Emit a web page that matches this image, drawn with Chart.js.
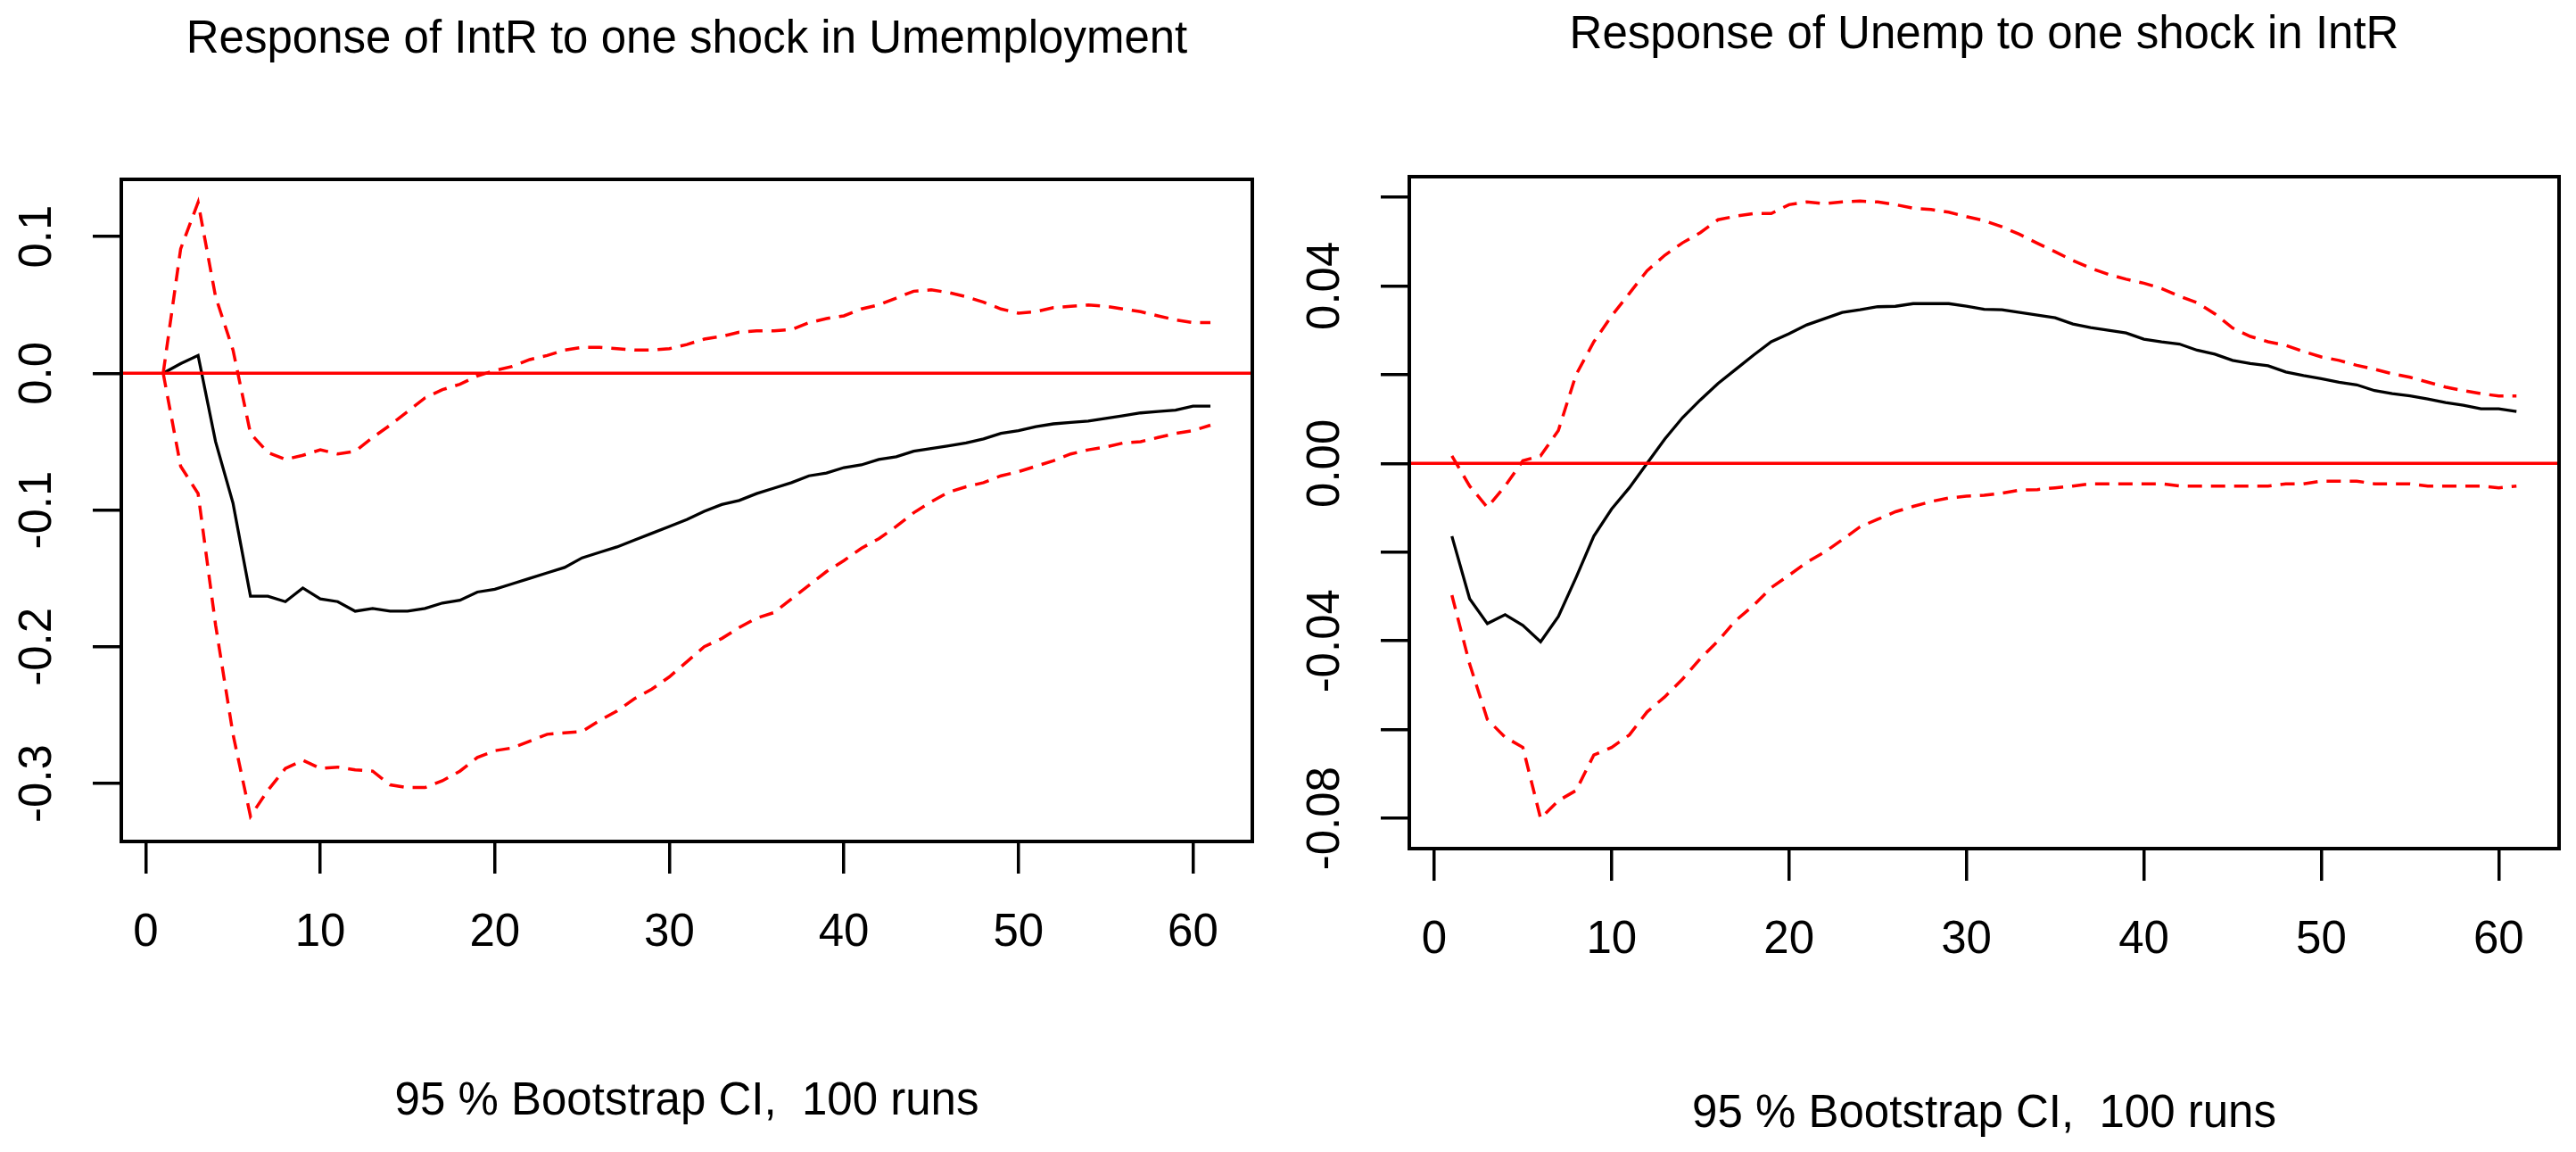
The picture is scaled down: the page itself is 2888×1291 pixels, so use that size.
<!DOCTYPE html>
<html>
<head>
<meta charset="utf-8">
<script src="https://cdn.jsdelivr.net/npm/chart.js@4.4.1/dist/chart.umd.min.js"></script>
<style>
  html, body { margin: 0; padding: 0; background: #fff; }
  #wrap { position: relative; width: 2888px; height: 1291px; }
  canvas { position: absolute; top: 0; }
  #left { left: 0; }
  #right { left: 1444px; }
</style>
</head>
<body>
<div id="wrap">
  <canvas id="left" width="1444" height="1291"></canvas>
  <canvas id="right" width="1444" height="1291"></canvas>
</div>
<script>
// horizon 1..61
const steps = Array.from({ length: 61 }, (_, i) => i + 1);
const xLabels = ["0", "10", "20", "30", "40", "50", "60"];

// Response of IntR to one shock in Unemployment
const irfIntR = [
  0.000, 0.007, 0.013, -0.050, -0.095, -0.163, -0.163, -0.167, -0.157, -0.165,
  -0.167, -0.174, -0.172, -0.174, -0.174, -0.172, -0.168, -0.166, -0.160, -0.158,
  -0.154, -0.150, -0.146, -0.142, -0.135, -0.131, -0.127, -0.122, -0.117, -0.112,
  -0.107, -0.101, -0.096, -0.093, -0.088, -0.084, -0.080, -0.075, -0.073, -0.069,
  -0.067, -0.063, -0.061, -0.057, -0.055, -0.053, -0.051, -0.048, -0.044, -0.042,
  -0.039, -0.037, -0.036, -0.035, -0.033, -0.031, -0.029, -0.028, -0.027, -0.024,
  -0.024
];
const upperIntR = [
  0.000, 0.091, 0.125, 0.056, 0.017, -0.044, -0.058, -0.063, -0.060, -0.056,
  -0.059, -0.057, -0.047, -0.038, -0.028, -0.018, -0.012, -0.008, -0.002, 0.002,
  0.005, 0.010, 0.013, 0.017, 0.019, 0.019, 0.018, 0.017, 0.017, 0.018,
  0.021, 0.025, 0.027, 0.030, 0.031, 0.031, 0.032, 0.037, 0.040, 0.042,
  0.047, 0.050, 0.055, 0.060, 0.061, 0.059, 0.056, 0.052, 0.047, 0.044,
  0.045, 0.048, 0.049, 0.050, 0.049, 0.047, 0.045, 0.042, 0.039, 0.037,
  0.037
];
const lowerIntR = [
  0.000, -0.068, -0.088, -0.184, -0.264, -0.324, -0.305, -0.289, -0.283, -0.289,
  -0.288, -0.290, -0.291, -0.301, -0.303, -0.303, -0.298, -0.291, -0.281, -0.276,
  -0.274, -0.269, -0.264, -0.263, -0.262, -0.254, -0.247, -0.238, -0.231, -0.222,
  -0.211, -0.200, -0.194, -0.186, -0.179, -0.175, -0.165, -0.155, -0.145, -0.137,
  -0.128, -0.121, -0.112, -0.102, -0.094, -0.087, -0.083, -0.080, -0.075, -0.072,
  -0.068, -0.064, -0.059, -0.056, -0.054, -0.051, -0.050, -0.047, -0.044, -0.042,
  -0.038
];
const yLabelsIntR = ["-0.3", "-0.2", "-0.1", "0.0", "0.1"];

// Response of Unemp to one shock in IntR
const irfUnemp = [
  -0.0164, -0.0305, -0.0361, -0.0341, -0.0365, -0.0402, -0.0345, -0.0257, -0.0164, -0.0103,
  -0.0055, 0.0000, 0.0055, 0.0103, 0.0143, 0.0180, 0.0212, 0.0244, 0.0274, 0.0292,
  0.0312, 0.0326, 0.0340, 0.0346, 0.0353, 0.0354, 0.0360, 0.0360, 0.0360, 0.0354,
  0.0347, 0.0346, 0.0340, 0.0334, 0.0328, 0.0314, 0.0306, 0.0300, 0.0294, 0.0280,
  0.0274, 0.0269, 0.0255, 0.0246, 0.0232, 0.0225, 0.0220, 0.0206, 0.0198, 0.0191,
  0.0183, 0.0177, 0.0164, 0.0157, 0.0152, 0.0145, 0.0137, 0.0131, 0.0123, 0.0123,
  0.0117
];
const upperUnemp = [
  0.0017, -0.0051, -0.0099, -0.0051, 0.0006, 0.0017, 0.0074, 0.0200, 0.0274, 0.0332,
  0.0383, 0.0434, 0.0469, 0.0497, 0.0520, 0.0549, 0.0557, 0.0563, 0.0563, 0.0583,
  0.0589, 0.0585, 0.0589, 0.0591, 0.0589, 0.0583, 0.0575, 0.0572, 0.0566, 0.0556,
  0.0547, 0.0533, 0.0516, 0.0496, 0.0477, 0.0457, 0.0440, 0.0426, 0.0415, 0.0406,
  0.0394, 0.0377, 0.0362, 0.0337, 0.0305, 0.0286, 0.0274, 0.0266, 0.0252, 0.0240,
  0.0232, 0.0221, 0.0212, 0.0202, 0.0194, 0.0183, 0.0172, 0.0164, 0.0157, 0.0152,
  0.0152
];
const lowerUnemp = [
  -0.0297, -0.0452, -0.0577, -0.0617, -0.0640, -0.0800, -0.0760, -0.0737, -0.0657, -0.0640,
  -0.0612, -0.0560, -0.0526, -0.0486, -0.0440, -0.0400, -0.0354, -0.0320, -0.0280, -0.0252,
  -0.0223, -0.0200, -0.0172, -0.0143, -0.0126, -0.0109, -0.0097, -0.0086, -0.0078, -0.0074,
  -0.0072, -0.0067, -0.0060, -0.0059, -0.0055, -0.0051, -0.0046, -0.0046, -0.0046, -0.0046,
  -0.0046, -0.0051, -0.0051, -0.0051, -0.0051, -0.0051, -0.0051, -0.0046, -0.0046, -0.0040,
  -0.0040, -0.0040, -0.0046, -0.0046, -0.0046, -0.0051, -0.0051, -0.0051, -0.0051, -0.0055,
  -0.0051
];
const yLabelsUnemp = ["-0.08", "-0.04", "0.00", "0.04"];

const subText = "95 % Bootstrap CI,  100 runs";
const FONT = "'Liberation Sans', Arial, Helvetica, sans-serif";
const FS = 51;
const W = 1444, H = 1291;

const panels = [
  {
    id: "left", title: "Response of IntR to one shock in Umemployment",
    irf: irfIntR, upper: upperIntR, lower: lowerIntR, yLabels: yLabelsIntR, decimals: 1,
    yMin: -0.3424, yMax: 0.1418, yStep: 0.1,
    box: { left: 136, right: 1404, top: 201, bottom: 943 }, titleY: 45, subY: 1235, yPad: 17
  },
  {
    id: "right", title: "Response of Unemp to one shock in IntR",
    irf: irfUnemp, upper: upperUnemp, lower: lowerUnemp, yLabels: yLabelsUnemp, decimals: 2,
    yMin: -0.0868, yMax: 0.0646, yStep: 0.02,
    box: { left: 136, right: 1425, top: 198, bottom: 951 }, titleY: 40, subY: 1249, yPad: 3
  }
];

// zero line right after the black irf line, then the box on top
const framePlugin = {
  id: "frame",
  afterDatasetDraw(chart, args) {
    if (args.index !== 0) return;
    const { ctx, chartArea: a } = chart;
    const y0 = chart.scales.y.getPixelForValue(0);
    ctx.save();
    ctx.strokeStyle = "#ff0000";
    ctx.lineWidth = 3.5;
    ctx.beginPath();
    ctx.moveTo(a.left, y0);
    ctx.lineTo(a.right, y0);
    ctx.stroke();
    ctx.restore();
  },
  afterDraw(chart) {
    const { ctx, chartArea: a } = chart;
    ctx.save();
    ctx.strokeStyle = "#000";
    ctx.lineWidth = 4;
    ctx.strokeRect(a.left, a.top, a.right - a.left, a.bottom - a.top);
    ctx.restore();
  }
};

const pts = arr => steps.map((t, i) => ({ x: t, y: arr[i] }));

panels.forEach(p => {
  const ctx = document.getElementById(p.id).getContext("2d");
  const half = FS * 1.2 / 2;
  new Chart(ctx, {
    type: "line",
    data: {
      datasets: [
        { data: pts(p.irf), borderColor: "#000", borderWidth: 3.3, order: 2 },
        { data: pts(p.lower), borderColor: "#ff0000", borderWidth: 3.5, borderDash: [16, 10], order: 1 },
        { data: pts(p.upper), borderColor: "#ff0000", borderWidth: 3.5, borderDash: [16, 10], order: 1 }
      ]
    },
    options: {
      responsive: false,
      animation: false,
      devicePixelRatio: 1,
      events: [],
      layout: { padding: { left: 0, right: W - p.box.right, top: 0, bottom: 0 } },
      elements: { point: { radius: 0 }, line: { tension: 0, fill: false } },
      plugins: {
        legend: { display: false },
        tooltip: { enabled: false },
        title: {
          display: true, text: p.title, fullSize: false, color: "#000",
          font: { family: FONT, size: FS, weight: "normal" },
          padding: { top: p.titleY - half, bottom: p.box.top - p.titleY - half }
        }
      },
      scales: {
        x: {
          type: "linear", min: -1.4, max: 63.4,
          afterFit: s => { s.height = H - p.box.bottom; },
          border: { display: false },
          grid: { display: true, drawOnChartArea: false, drawTicks: true, tickLength: 36, color: "#000", lineWidth: 3.5 },
          ticks: {
            stepSize: 10, includeBounds: false, autoSkip: false, maxRotation: 0, padding: 36,
            color: "#000", font: { family: FONT, size: FS },
            callback: v => xLabels.includes(String(v)) ? String(v) : ""
          },
          title: {
            display: true, text: subText, color: "#000",
            font: { family: FONT, size: FS },
            padding: { top: 0, bottom: H - p.subY - half }
          }
        },
        y: {
          min: p.yMin, max: p.yMax,
          afterFit: s => { s.width = p.box.left; },
          border: { display: false },
          grid: { display: true, drawOnChartArea: false, drawTicks: true, tickLength: 32, color: "#000", lineWidth: 3.5 },
          ticks: {
            stepSize: p.yStep, includeBounds: false, autoSkip: false,
            minRotation: 90, maxRotation: 90, crossAlign: "center", padding: p.yPad,
            color: "#000", font: { family: FONT, size: FS },
            callback: v => {
              const s = (Math.abs(v) < 1e-9 ? 0 : v).toFixed(p.decimals);
              return p.yLabels.includes(s) ? s : "";
            }
          }
        }
      }
    },
    plugins: [framePlugin]
  });
});
</script>
</body>
</html>
